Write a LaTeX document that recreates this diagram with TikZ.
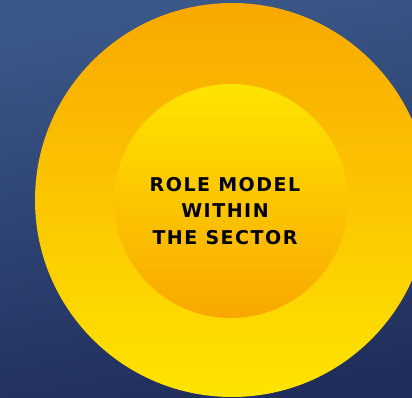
\documentclass[tikz,border=0pt]{standalone}
\usepackage{fontspec}
\newfontfamily\labelfont[LetterSpace=8,BoldFont={DejaVu Sans Bold}]{DejaVu Sans}
\definecolor{bgtop}{HTML}{3A5888}
\definecolor{bgbot}{HTML}{212E5C}
\definecolor{orng}{HTML}{F8A800}
\definecolor{ylw}{HTML}{FFE400}
\tikzset{
  lbl/.style={align=center, font=\labelfont\bfseries\fontsize{19}{26.5}\selectfont, text=black, inner sep=0pt}
}
\begin{document}
\begin{tikzpicture}[x=1pt,y=-1pt]
\useasboundingbox (0,0) rectangle (412,398);
\shade[top color=bgtop, bottom color=bgbot, shading angle=10] (0,0) rectangle (412,398);
\begin{scope}
\clip (0,0) rectangle (412,398);
\shade[top color=orng, bottom color=ylw] (232,200) circle[radius=197];
\end{scope}
\shade[top color=ylw, bottom color=orng] (231,201) circle[radius=117];
\node[lbl] (t) at (225,211) {ROLE MODEL\\WITHIN\\THE SECTOR};
\end{tikzpicture}
\end{document}
